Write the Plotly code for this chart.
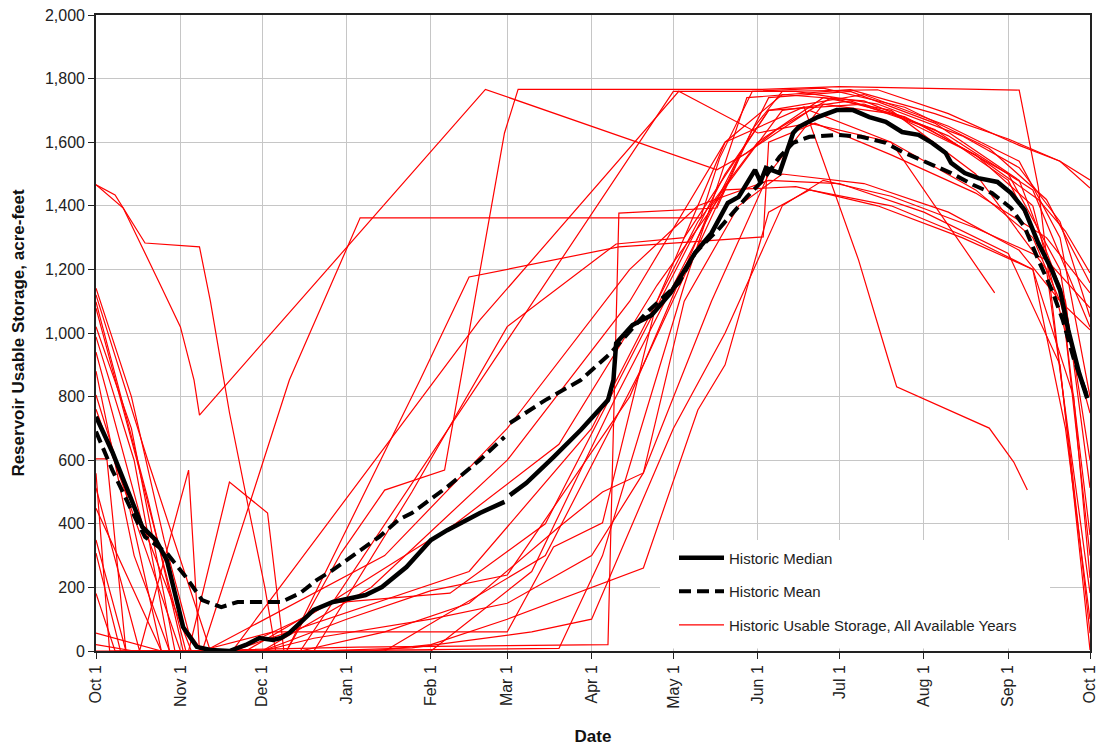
import plotly.graph_objects as go

# ---- axis labels -------------------------------------------------------
tick_vals = ["2009-10-01", "2009-11-01", "2009-12-01", "2010-01-01", "2010-02-01",
             "2010-03-01", "2010-04-01", "2010-05-01", "2010-06-01", "2010-07-01",
             "2010-08-01", "2010-09-01", "2010-10-01"]
tick_text = ["Oct 1", "Nov 1", "Dec 1", "Jan 1", "Feb 1", "Mar 1", "Apr 1",
             "May 1", "Jun 1", "Jul 1", "Aug 1", "Sep 1", "Oct 1"]

# ---- historic median / mean (acre-feet) ---------------------------------
median_pts = [("10-01", 737), ("10-07", 626), ("10-18", 390), ("10-23", 349), ("10-27", 286),
              ("11-02", 75), ("11-04", 50), ("11-07", 13), ("11-12", 3), ("11-19", 0),
              ("11-25", 19), ("11-30", 41), ("12-05", 35), ("12-08", 41), ("12-11", 57),
              ("12-20", 129), ("12-27", 154), ("01-08", 176), ("01-14", 201), ("01-20", 245),
              ("01-23", 264), ("02-01", 349), ("02-07", 380), ("02-19", 434), ("02-28", 469),
              ("03-01", None), ("03-02", 490), ("03-08", 528), ("03-18", 610), ("03-28", 695),
              ("04-07", 789), ("04-09", 852), ("04-10", 968), ("04-16", 1025), ("04-23", 1056),
              ("04-30", 1126), ("05-09", 1252), ("05-15", 1314), ("05-21", 1409), ("05-25", 1428),
              ("05-31", 1513), ("06-02", 1475), ("06-04", 1519), ("06-09", 1503), ("06-14", 1629),
              ("06-16", 1648), ("06-23", 1679), ("06-30", 1701), ("07-06", 1701), ("07-12", 1679),
              ("07-18", 1664), ("07-24", 1632), ("07-30", 1623), ("08-04", 1598), ("08-09", 1566),
              ("08-11", 1535), ("08-16", 1503), ("08-21", 1487), ("08-28", 1475), ("09-02", 1440),
              ("09-07", 1387), ("09-12", 1283), ("09-17", 1198), ("09-20", 1135), ("09-23", 1010),
              ("09-27", 874), ("09-30", 795)]

mean_pts = [("10-01", 690), ("10-07", 569), ("10-14", 443), ("10-19", 359), ("10-27", 308),
            ("11-03", 233), ("11-09", 160), ("11-16", 138), ("11-22", 154), ("12-01", 154),
            ("12-08", 154), ("12-15", 182), ("12-21", 223), ("12-27", 255), ("01-08", 327),
            ("01-13", 359), ("01-20", 412), ("01-25", 434), ("02-07", 516), ("02-19", 601),
            ("02-28", 673), ("03-01", None), ("03-02", 717), ("03-15", 789), ("03-28", 852),
            ("04-08", 937), ("04-21", 1063), ("05-03", 1157), ("05-09", 1252), ("05-18", 1330),
            ("05-28", 1428), ("06-03", 1481), ("06-09", 1554), ("06-14", 1598), ("06-20", 1617),
            ("06-30", 1623), ("07-09", 1617), ("07-18", 1598), ("07-24", 1570), ("08-02", 1535),
            ("08-11", 1503), ("08-19", 1466), ("08-26", 1440), ("09-02", 1393), ("09-07", 1333),
            ("09-12", 1230), ("09-17", 1135), ("09-21", 1041), ("09-25", 920), ("09-30", 800)]

# ---- usable storage, one list per water year ----------------------------
yr01 = [("10-01", 1466), ("10-08", 1434), ("10-19", 1283), ("11-08", 1271), ("11-12", 1100),
        ("11-19", 750), ("11-26", 450), ("12-02", 200), ("12-06", 0), ("03-20", 8),
        ("04-05", 300), ("05-05", 1150), ("05-28", 1740), ("07-05", 1765), ("08-05", 1690),
        ("09-01", 1610), ("09-20", 1540), ("10-01", 1456)]
yr02 = [("10-01", 1466), ("10-11", 1393), ("10-25", 1145), ("11-01", 1019), ("11-06", 852),
        ("11-08", 742), ("02-21", 1766), ("05-17", 1513), ("05-28", 1566), ("06-08", 1640),
        ("06-28", 1740), ("07-25", 1680), ("08-20", 1560), ("09-12", 1420), ("09-22", 1320),
        ("10-01", 1189)]
yr03 = [("10-01", 1141), ("10-14", 800), ("10-26", 350), ("11-04", 60), ("11-09", 0),
        ("12-11", 852), ("01-06", 1362), ("05-11", 1362), ("05-18", 1550), ("05-30", 1760),
        ("06-25", 1770), ("07-25", 1710), ("08-25", 1580), ("09-15", 1420), ("10-01", 1157)]
yr04 = [("10-01", 1098), ("10-20", 480), ("11-02", 0), ("01-05", 12), ("04-07", 20),
        ("04-11", 1377), ("05-17", 1393), ("05-30", 1640), ("06-10", 1760), ("07-15", 1765),
        ("08-10", 1690), ("09-05", 1590), ("09-20", 1540), ("10-01", 1481)]
yr05 = [("10-01", 1078), ("10-16", 600), ("11-03", 0), ("12-10", 0), ("12-30", 308),
        ("01-15", 506), ("02-06", 569), ("02-28", 1629), ("03-05", 1766), ("06-02", 1766),
        ("07-01", 1775), ("09-05", 1764), ("09-12", 1459), ("09-24", 600), ("10-01", 56)]
yr06 = [("10-01", 1020), ("10-14", 700), ("10-30", 0), ("12-10", 0), ("01-28", 852),
        ("02-15", 1176), ("04-11", 1271), ("06-03", 1302), ("06-05", 1600), ("06-22", 1660),
        ("07-20", 1560), ("08-20", 1440), ("09-15", 1300), ("10-01", 1126)]
yr07 = [("10-01", 988), ("10-15", 600), ("10-28", 0), ("11-20", 0), ("02-19", 1041),
        ("05-03", 1760), ("06-01", 1629), ("06-20", 1660), ("07-20", 1600), ("08-20", 1450),
        ("09-10", 1300), ("09-20", 1100), ("10-01", 748)]
yr08 = [("10-01", 805), ("10-12", 500), ("10-25", 0), ("12-15", 0), ("05-01", 1760),
        ("06-15", 1760), ("07-15", 1720), ("08-15", 1620), ("09-05", 1520), ("09-20", 1350),
        ("10-01", 1050)]
yr09 = [("10-01", 604), ("10-05", 604), ("10-12", 0), ("12-01", 0), ("01-10", 200),
        ("03-01", 600), ("04-15", 1100), ("05-20", 1600), ("06-18", 1711), ("07-08", 1230),
        ("07-19", 915), ("07-22", 831), ("08-25", 701), ("09-03", 594), ("09-08", 506)]
yr10 = [("10-01", 559), ("10-06", 0), ("01-15", 0), ("03-15", 300), ("04-20", 900),
        ("05-25", 1550), ("06-20", 1700), ("07-20", 1600), ("08-27", 1126)]
yr11 = [("10-01", 513), ("10-17", 0), ("11-04", 569), ("11-08", 0), ("12-05", 60),
        ("03-01", 60), ("03-18", 327), ("04-05", 403), ("04-25", 1100), ("05-20", 1600),
        ("06-10", 1750), ("07-10", 1730), ("08-10", 1620), ("09-10", 1450), ("10-01", 1019)]
yr12 = [("10-01", 449), ("10-25", 0), ("11-04", 0), ("11-19", 531), ("12-03", 434),
        ("12-09", 0), ("02-01", 0), ("03-10", 250), ("04-10", 800), ("05-10", 1300),
        ("06-05", 1740), ("07-05", 1760), ("08-05", 1660), ("09-05", 1480), ("09-22", 1100),
        ("10-01", 513)]
yr13 = [("10-01", 349), ("10-12", 0), ("12-01", 0), ("01-01", 100), ("02-01", 190),
        ("03-01", 239), ("04-15", 800), ("05-15", 1400), ("06-10", 1700), ("07-05", 1730),
        ("08-01", 1650), ("09-01", 1500), ("09-20", 1200), ("10-01", 600)]
yr14 = [("10-01", 181), ("10-08", 0), ("11-25", 0), ("12-25", 150), ("02-08", 182),
        ("03-15", 400), ("04-20", 1000), ("05-20", 1500), ("06-05", 1700), ("07-10", 1720),
        ("08-05", 1640), ("09-01", 1480), ("09-20", 1150), ("10-01", 365)]
yr15 = [("10-01", 56), ("10-25", 0), ("11-20", 0), ("02-15", 250), ("04-01", 700),
        ("05-10", 1350), ("06-01", 1600), ("06-25", 1740), ("07-20", 1700), ("08-20", 1500),
        ("09-15", 1200), ("10-01", 182)]
yr16 = [("10-01", 20), ("10-15", 0), ("11-10", 0), ("01-15", 300), ("03-01", 700),
        ("04-15", 1200), ("05-10", 1400), ("06-05", 1480), ("07-01", 1470), ("08-01", 1380),
        ("09-01", 1250), ("09-20", 900), ("10-01", 3)]
yr17 = [("10-01", 308), ("10-10", 0), ("11-20", 0), ("12-20", 120), ("02-10", 400),
        ("03-20", 650), ("04-25", 1150), ("05-20", 1450), ("06-15", 1460), ("07-15", 1400),
        ("08-15", 1300), ("09-10", 1200), ("09-22", 700), ("10-01", 100)]
yr18 = [("10-01", 1120), ("10-20", 600), ("11-12", 0), ("12-20", 0), ("01-25", 10),
        ("03-10", 60), ("04-01", 100), ("05-01", 700), ("05-20", 1000), ("06-10", 1400),
        ("06-25", 1480), ("07-20", 1430), ("08-20", 1330), ("09-15", 1230), ("10-01", 1079)]
yr19 = [("10-01", 940), ("10-18", 400), ("11-05", 0), ("01-10", 0), ("02-01", 20),
        ("03-01", 100), ("04-20", 261), ("05-10", 758), ("05-20", 900), ("06-05", 1380),
        ("06-20", 1450), ("07-20", 1400), ("08-20", 1290), ("09-10", 1200), ("09-25", 800),
        ("10-01", 230)]
yr20 = [("10-01", 760), ("10-20", 300), ("11-01", 0), ("12-15", 0), ("01-15", 60),
        ("02-15", 150), ("03-20", 390), ("04-05", 500), ("04-20", 560), ("05-05", 1100),
        ("05-25", 1400), ("06-10", 1500), ("07-10", 1470), ("08-10", 1380), ("09-05", 1260),
        ("09-20", 1100), ("10-01", 1010)]
yr21 = [("10-01", 880), ("10-15", 300), ("10-28", 0), ("12-20", 0), ("01-25", 500),
        ("03-01", 1020), ("04-10", 1280), ("05-05", 1300), ("05-22", 1520), ("06-05", 1700),
        ("07-10", 1750), ("08-10", 1650), ("09-05", 1540), ("09-20", 1300), ("10-01", 800)]
yr22 = [("10-01", 0), ("12-01", 0), ("12-20", 40), ("02-01", 100), ("03-01", 150),
        ("04-01", 300), ("04-20", 560), ("05-15", 1100), ("06-05", 1500), ("06-25", 1720),
        ("07-20", 1690), ("08-20", 1560), ("09-10", 1400), ("09-22", 1000), ("10-01", 300)]

years = [yr01, yr02, yr03, yr04, yr05, yr06, yr07, yr08, yr09, yr10, yr11,
         yr12, yr13, yr14, yr15, yr16, yr17, yr18, yr19, yr20, yr21, yr22]


def water_year_dates(points):
    """Place month-day labels on the Oct 2009 - Sep 2010 water year."""
    xs, ys = [], []
    in_new_year = False
    for md, val in points:
        month = int(md[:2])
        if month < 10:
            in_new_year = True
        year = 2010 if in_new_year else 2009
        xs.append(f"{year}-{md}")
        ys.append(val)
    return xs, ys


fig = go.Figure()

for i, yr in enumerate(years):
    xs, ys = water_year_dates(yr)
    fig.add_trace(go.Scatter(
        x=xs, y=ys, mode="lines",
        line=dict(color="#ff0000", width=1.2),
        name="Historic Usable Storage, All Available Years",
        legendgroup="years", showlegend=(i == 0), legendrank=3,
    ))

mx, my = water_year_dates(mean_pts)
fig.add_trace(go.Scatter(
    x=mx, y=my, mode="lines", name="Historic Mean",
    line=dict(color="#000000", width=4, dash="12px,6px"),
    legendgroup="mean", legendrank=2,
))

dx, dy = water_year_dates(median_pts)
fig.add_trace(go.Scatter(
    x=dx, y=dy, mode="lines", name="Historic Median",
    line=dict(color="#000000", width=4.5),
    legendgroup="median", legendrank=1,
))

# white panel behind the legend
fig.add_shape(type="rect", xref="paper", yref="paper",
              x0=0.5674, x1=0.9598, y0=0.004, y1=0.1745,
              fillcolor="white", line=dict(width=0), layer="above")

axis_font = dict(family="Liberation Sans, Arial, sans-serif", size=16, color="#222222")
title_font = dict(family="Liberation Sans, Arial, sans-serif", size=17, color="#111111")

fig.update_layout(
    width=1103, height=749,
    margin=dict(l=96, r=13, t=15, b=98),
    paper_bgcolor="white", plot_bgcolor="white",
    font=axis_font,
    showlegend=True,
    legend=dict(
        x=0.5815, xanchor="left", y=0.172, yanchor="top",
        bgcolor="rgba(255,255,255,0)", borderwidth=0,
        font=dict(family="Liberation Sans, Arial, sans-serif", size=15, color="#222222"),
        itemwidth=45, tracegroupgap=11, traceorder="grouped",
    ),
    xaxis=dict(
        type="date", range=["2009-10-01", "2010-10-01"], automargin=False,
        tickmode="array", tickvals=tick_vals, ticktext=tick_text, tickangle=-90,
        showgrid=True, gridcolor="#c6c6c6", gridwidth=1,
        showline=True, linecolor="#222222", linewidth=1.6, mirror=True,
        ticks="outside", ticklen=6, tickcolor="#222222",
        tickfont=axis_font,
        title=dict(text="<b>Date</b>", font=title_font, standoff=22),
        zeroline=False,
    ),
    yaxis=dict(
        range=[0, 2000], dtick=200, tickformat=",", automargin=False,
        showgrid=True, gridcolor="#c6c6c6", gridwidth=1,
        showline=True, linecolor="#222222", linewidth=1.6, mirror=True,
        ticks="outside", ticklen=6, tickcolor="#222222",
        tickfont=axis_font,
        title=dict(text="<b>Reservoir Usable Storage, acre-feet</b>", font=title_font, standoff=16),
        zeroline=False,
    ),
)

fig.write_html("out.html")
